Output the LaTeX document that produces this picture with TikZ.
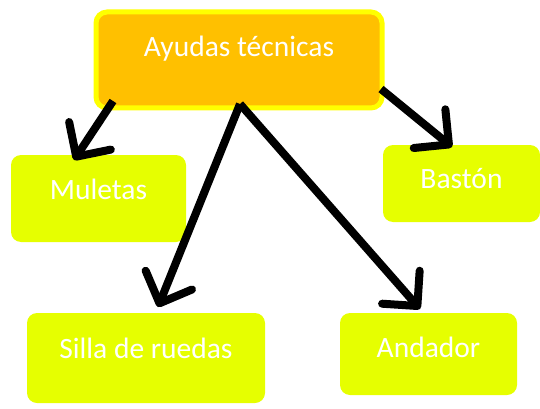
\documentclass[tikz,border=0pt]{standalone}
\usepackage{fontspec}
\setmainfont{Carlito}
\usetikzlibrary{arrows.meta}
\definecolor{topfill}{HTML}{FFC000}
\definecolor{topborder}{HTML}{FFFF00}
\definecolor{leaf}{HTML}{E6FF00}
\tikzset{
  topbox/.style={draw=topborder, line width=5pt, fill=topfill, rounded corners=11pt, inner sep=0pt},
  leafbox/.style={fill=leaf, rounded corners=10pt, inner sep=0pt},
  lbl/.style={text=white, font=\fontsize{29.5}{34}\selectfont, inner sep=0pt},
  conn/.style={line width=8pt, -{Straight Barb[length=25pt,width=50pt,line width=8pt,round]}, line cap=butt, black}
}
\begin{document}
\begin{tikzpicture}[x=1pt,y=-1pt]
\useasboundingbox (0,0) rectangle (540,409);
\node[topbox, minimum width=286pt, minimum height=96pt] (top) at (239,60) {};
\node[lbl] (toptext) at (239,49) {Ayudas técnicas};
\node[leafbox, minimum width=175pt, minimum height=87pt] (mul) at (98.5,198.5) {};
\node[lbl] (multext) at (98.5,189) {Muletas};
\node[leafbox, minimum width=157pt, minimum height=77pt] (bas) at (461.5,183.5) {};
\node[lbl] (bastext) at (461.5,179) {Bastón};
\node[leafbox, minimum width=238pt, minimum height=90pt] (sil) at (146,358) {};
\node[lbl] (siltext) at (146,348) {Silla de ruedas};
\node[leafbox, minimum width=177pt, minimum height=82pt] (and) at (428.5,354) {};
\node[lbl] (andtext) at (428.5,347) {Andador};
\coordinate (s1) at (113,101);
\coordinate (t1) at (74,160);
\coordinate (s2) at (240,104);
\coordinate (t2) at (158,307);
\coordinate (t3) at (420,309);
\coordinate (s4) at (381,89);
\coordinate (t4) at (452,147);
\draw[conn] (s1) -- (t1);
\draw[conn] (s2) -- (t2);
\draw[conn] (s2) -- (t3);
\draw[conn] (s4) -- (t4);
\end{tikzpicture}
\end{document}
